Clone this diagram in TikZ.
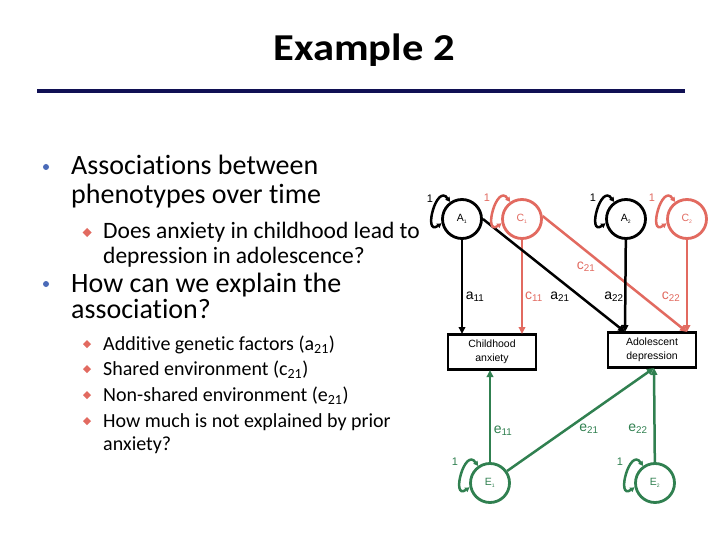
\documentclass[tikz,border=0pt]{standalone}
\usepackage{fontspec}
\setmainfont{Carlito}[Ligatures=NoCommon]
\newfontfamily\arialf{Liberation Sans}
\usetikzlibrary{arrows.meta,calc}
\definecolor{salm}{RGB}{226,106,96}
\definecolor{grn}{RGB}{48,128,80}
\definecolor{navy}{RGB}{16,16,84}
\definecolor{bblue}{RGB}{74,106,184}
\newcommand{\twolines}[3]{\parbox[t]{340pt}{\raggedright\baselineskip=#1 #2\\#3}}
\begin{document}
\begin{tikzpicture}[x=1pt,y=-1pt,
  lat/.style={circle,draw,line width=2.8pt,minimum size=39pt,inner sep=0pt,font=\arialf\fontsize{10.5}{11}\selectfont},
  obs/.style={draw,line width=2.8pt,minimum width=88pt,minimum height=35pt,inner sep=0pt,align=center,font=\arialf\fontsize{10.5}{14}\selectfont},
  path/.style={line width=2.5pt,-{Triangle[length=7pt,width=6.5pt]}},
  sloop/.style={line width=2.5pt,{Triangle[length=4.5pt,width=5pt]}-{Triangle[length=4.5pt,width=5pt]},looseness=2.6},
  plab/.style={font=\arialf\fontsize{14}{14}\selectfont,inner sep=0pt},
  onelab/.style={font=\arialf\fontsize{11}{11}\selectfont,inner sep=0pt},
  lvA/.style={anchor=base west,inner sep=0pt,font=\fontsize{28}{28}\selectfont},
  lvB/.style={anchor=base west,inner sep=0pt,font=\fontsize{23.5}{23.5}\selectfont},
  lvC/.style={anchor=base west,inner sep=0pt,font=\fontsize{20}{20}\selectfont}
]
\useasboundingbox (0,0) rectangle (720,540);
\fill[white] (0,0) rectangle (720,540);
% title
\node[font=\bfseries\fontsize{38}{38}\selectfont,inner sep=0pt,anchor=base,xscale=1.12] (title) at (364,61) {Example 2};
\draw[navy,line width=4pt] (37,91) -- (685,91);
% bullets text
\fill[bblue] (46,167) circle (3pt);
\node[lvA] (t1) at (71,175) {\twolines{28.5pt}{Associations between}{phenotypes over time}};
\fill[salm] (87,228) -- (91.5,232.5) -- (87,237) -- (82.5,232.5) -- cycle;
\node[lvB] (t3) at (103,238) {\twolines{25pt}{Does anxiety in childhood lead to}{depression in adolescence?}};
\fill[bblue] (46,284) circle (3pt);
\node[lvA] (t5) at (71,292) {\twolines{26.5pt}{How can we explain the}{association?}};
\foreach \yy/\tt in {350/{Additive genetic factors (a\textsubscript{21})},375/{Shared environment (c\textsubscript{21})},401/{Non-shared environment (e\textsubscript{21})}}{
  \fill[salm] (87,\yy-10) -- (91,\yy-6) -- (87,\yy-2) -- (83,\yy-6) -- cycle;
  \node[lvC] at (103,\yy) {\tt};
}
\fill[salm] (87,417) -- (91,421) -- (87,425) -- (83,421) -- cycle;
\node[lvC] (t10) at (103,427) {\twolines{23pt}{How much is not explained by prior}{anxiety?}};
% latent nodes
\node[lat] (A1) at (462,219) {A\textsubscript{\tiny 1}};
\node[lat,salm] (C1) at (522,219) {C\textsubscript{\tiny 1}};
\node[lat] (A2) at (626,219) {A\textsubscript{\tiny 2}};
\node[lat,salm] (C2) at (687,219) {C\textsubscript{\tiny 2}};
\node[lat,grn] (E1) at (490,483) {E\textsubscript{\tiny 1}};
\node[lat,grn] (E2) at (655,483) {E\textsubscript{\tiny 2}};
% observed
\node[obs] (CA) at (492,352) {Childhood\\anxiety};
\node[obs] (AD) at (652,350) {Adolescent\\depression};
\coordinate (CAa) at (462,334);
\coordinate (CAc) at (522,334);
\coordinate (ADa) at (625,332);
\coordinate (ADc) at (687,332);
\coordinate (CAe) at (490,370);
\coordinate (ADe) at (654,368);
% paths
\draw[path] (A1) -- (CAa);
\draw[path,salm] (C1) -- (CAc);
\draw[path] (A1.east) -- (ADa);
\draw[path,salm] (C1.8) -- (ADc);
\draw[path] (A2) -- (ADa);
\draw[path,salm] (C2) -- (ADc);
\draw[path,grn] (E1) -- (CAe);
\draw[path,grn] (E1) -- (ADe);
\draw[path,grn] (E2) -- (ADe);
% self loops
\foreach \n/\c in {A1/black,C1/salm,A2/black,C2/salm,E1/grn,E2/grn}{
  \draw[sloop,\c] (\n.125) to[out=125,in=215] (\n.192);
}
\node[onelab] (o1) at (430,199) {1};
\node[onelab,salm] (o2) at (487,198) {1};
\node[onelab] (o3) at (593,198) {1};
\node[onelab,salm] (o4) at (652,198) {1};
\node[onelab,grn] (o5) at (455,462) {1};
\node[onelab,grn] (o6) at (620,462) {1};
% path labels
\node[plab] (la11) at (475,297) {a\textsubscript{11}};
\node[plab,salm] (lc11) at (534,297) {c\textsubscript{11}};
\node[plab] (la21) at (560,297) {a\textsubscript{21}};
\node[plab] (la22) at (614,297) {a\textsubscript{22}};
\node[plab,salm] (lc22) at (671,297) {c\textsubscript{22}};
\node[plab,salm] (lc21) at (586,267) {c\textsubscript{21}};
\node[plab,grn] (le11) at (503,431) {e\textsubscript{11}};
\node[plab,grn] (le21) at (589,429) {e\textsubscript{21}};
\node[plab,grn] (le22) at (638,429) {e\textsubscript{22}};
\end{tikzpicture}
\end{document}
